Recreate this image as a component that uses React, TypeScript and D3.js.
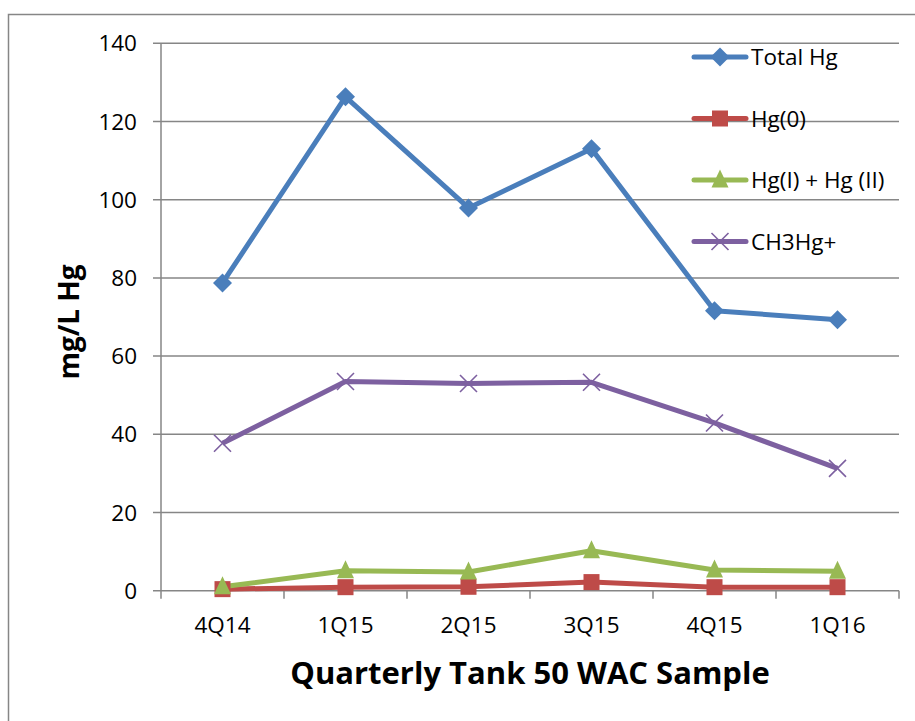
import React from "react";
import * as d3 from "d3";

const categories = ["4Q14", "1Q15", "2Q15", "3Q15", "4Q15", "1Q16"];
const totalHg = [78.7, 126.3, 97.9, 113.0, 71.6, 69.3];
const hg0 = [0.4, 0.9, 1.0, 2.2, 0.9, 0.9];
const hgI_II = [1.0, 5.1, 4.8, 10.2, 5.3, 5.0];
const ch3hg = [37.7, 53.5, 53.0, 53.3, 42.9, 31.3];
const yTicks = [0, 20, 40, 60, 80, 100, 120, 140];

const seriesNames = ["Total Hg", "Hg(0)", "Hg(I) + Hg (II)", "CH3Hg+"];
const seriesValues = [totalHg, hg0, hgI_II, ch3hg];
const seriesColors = ["#4A7EBB", "#BE4B48", "#98B954", "#7D60A0"];
const seriesMarkers = ["diamond", "square", "triangle", "x"];

const FONT = "'Open Sans', 'Noto Sans', sans-serif";

function Marker({ type, x, y, color }: { type: string; x: number; y: number; color: string }) {
  if (type === "diamond") {
    const s = 9.5;
    return <path d={`M${x},${y - s}L${x + s},${y}L${x},${y + s}L${x - s},${y}Z`} fill={color} />;
  }
  if (type === "square") {
    const s = 8;
    return <rect x={x - s} y={y - s} width={2 * s} height={2 * s} fill={color} />;
  }
  if (type === "triangle") {
    const s = 8.5;
    return <path d={`M${x},${y - s - 2}L${x + s},${y + s - 1}L${x - s},${y + s - 1}Z`} fill={color} />;
  }
  const s = 8.5;
  return (
    <path
      d={`M${x - s},${y - s}L${x + s},${y + s}M${x - s},${y + s}L${x + s},${y - s}`}
      stroke={color}
      strokeWidth={1.6}
      fill="none"
    />
  );
}

export default function App() {
  const width = 915;
  const height = 721;
  const left = 161;
  const right = 899;
  const top = 43.3;
  const bottom = 590.7;

  const x = d3.scaleBand().domain(categories).range([left, right]);
  const y = d3.scaleLinear().domain([0, 140]).range([bottom, top]);
  const cx = (c: string) => (x(c) as number) + x.bandwidth() / 2;

  const line = d3
    .line<number>()
    .x((_, i) => cx(categories[i]))
    .y((d) => y(d));

  const legendY0 = 57;
  const legendStep = 61.5;

  return (
    <svg
      width={width}
      height={height}
      style={{ position: "absolute", left: 0, top: 0, background: "#fff" }}
    >
      <rect x={0} y={0} width={width} height={height} fill="#fff" />
      <path d={`M8.5,${height + 5}L8.5,14.5L${width + 5},14.5`} fill="none" stroke="#868686" strokeWidth={1.5} />
      {yTicks.map((t) => (
        <g key={t}>
          <line x1={153} x2={right} y1={y(t)} y2={y(t)} stroke="#868686" strokeWidth={1.5} />
          <text
            x={137}
            y={y(t)}
            dy="0.36em"
            textAnchor="end"
            fontFamily={FONT}
            fontSize={22.5}
            fill="#000"
          >
            {t}
          </text>
        </g>
      ))}
      <line x1={left} x2={left} y1={top} y2={bottom} stroke="#868686" strokeWidth={1.5} />
      {d3.range(categories.length + 1).map((i) => {
        const xx = left + i * x.bandwidth();
        return <line key={i} x1={xx} x2={xx} y1={bottom} y2={bottom + 8} stroke="#868686" strokeWidth={1.5} />;
      })}
      {categories.map((c) => (
        <text key={c} x={cx(c)} y={633} textAnchor="middle" fontFamily={FONT} fontSize={22.5} fill="#000">
          {c}
        </text>
      ))}
      <text x={530} y={684} textAnchor="middle" fontFamily={FONT} fontSize={31} fontWeight="bold" fill="#000">
        Quarterly Tank 50 WAC Sample
      </text>
      <text
        transform={`translate(79,${322}) rotate(-90)`}
        textAnchor="middle"
        fontFamily={FONT}
        fontSize={28}
        fontWeight="bold"
        fill="#000"
      >
        mg/L Hg
      </text>
      {seriesValues.map((vals, si) => (
        <path
          key={"l" + si}
          d={line(vals) || ""}
          fill="none"
          stroke={seriesColors[si]}
          strokeWidth={5}
          strokeLinejoin="round"
        />
      ))}
      {seriesValues.map((vals, si) => (
        <g key={"m" + si}>
          {vals.map((v, i) => (
            <Marker key={i} type={seriesMarkers[si]} x={cx(categories[i])} y={y(v)} color={seriesColors[si]} />
          ))}
        </g>
      ))}
      {seriesNames.map((n, i) => {
        const ly = legendY0 + i * legendStep;
        return (
          <g key={n}>
            <line x1={694} x2={746} y1={ly} y2={ly} stroke={seriesColors[i]} strokeWidth={5} strokeLinecap="round" />
            <Marker type={seriesMarkers[i]} x={720} y={ly} color={seriesColors[i]} />
            <text x={751} y={ly} dy="0.36em" fontFamily={FONT} fontSize={22.5} fill="#000">
              {n}
            </text>
          </g>
        );
      })}
    </svg>
  );
}
